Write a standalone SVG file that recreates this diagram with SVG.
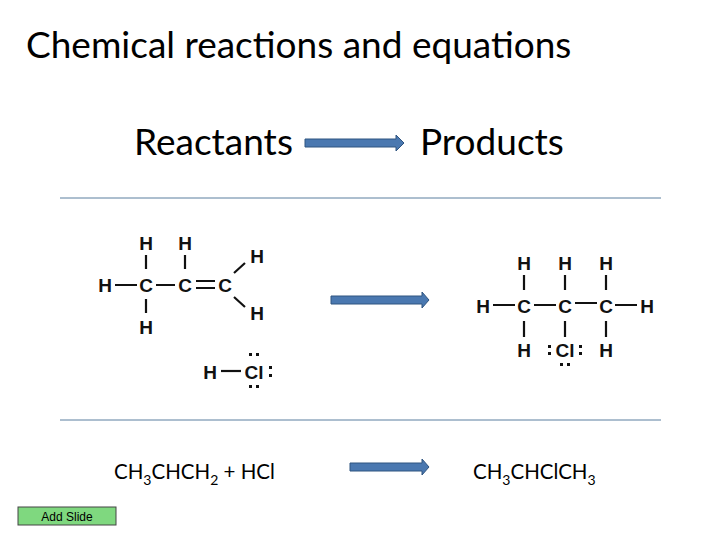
<svg xmlns="http://www.w3.org/2000/svg" width="720" height="540" viewBox="0 0 720 540">
<style>
.t{font-family:Lato,"Open Sans",sans-serif;fill:#000}
.a{font-family:"Liberation Sans",Arial,sans-serif;font-size:19px;font-weight:bold;text-anchor:middle;dominant-baseline:central;fill:#111}
.b{stroke:#111;stroke-width:2.2;fill:none}
.d{fill:#111}
.arr{fill:#4a78b0;stroke:#2f5480;stroke-width:1}
</style>
<rect width="720" height="540" fill="#fff"/>
<text class="t" x="26" y="58" font-size="37">Chemical reactions and equations</text>
<g id="reactants"><text class="t" x="134" y="155" font-size="37">Reactants</text></g>
<g id="products"><text class="t" x="420" y="155" font-size="37">Products</text></g>
<g id="connectors">
<path class="arr" d="M305 139h91v-4l8 8-8 8v-4h-91z"/>
<path class="arr" d="M331 296h91v-4l7 8-7 8v-4h-91z"/>
<path class="arr" d="M350 463h72v-4l7 8-7 8v-4h-72z"/>
</g>
<line x1="60" y1="198" x2="661" y2="198" stroke="#5a7f9f" stroke-width="1"/>
<line x1="60" y1="420" x2="661" y2="420" stroke="#5a7f9f" stroke-width="1"/>
<g id="propene">
<text class="a" x="146" y="243">H</text><text class="a" x="185" y="243">H</text>
<text class="a" x="105" y="285">H</text><text class="a" x="146" y="285">C</text><text class="a" x="185" y="285">C</text><text class="a" x="225" y="285">C</text>
<text class="a" x="146" y="327">H</text>
<text class="a" x="257" y="256">H</text><text class="a" x="257" y="313">H</text>
<path class="b" d="M146 255v14M185 255v14M146 299v14M115 285h22M156 285h19M196 281h19M196 288h19M234 273l11-10M234 297l11 10"/>
</g>
<g id="hcl">
<text class="a" x="210" y="372">H</text><text class="a" x="254" y="372">Cl</text>
<path class="b" d="M221 371h20"/>
<rect class="d" x="249" y="353" width="3" height="3"/><rect class="d" x="256" y="353" width="3" height="3"/>
<rect class="d" x="249" y="385" width="3" height="3"/><rect class="d" x="256" y="385" width="3" height="3"/>
<rect class="d" x="269" y="366" width="3" height="3"/><rect class="d" x="269" y="374" width="3" height="3"/>
</g>
<g id="chloropropane">
<text class="a" x="524" y="263">H</text><text class="a" x="565" y="263">H</text><text class="a" x="606" y="263">H</text>
<text class="a" x="483" y="306">H</text><text class="a" x="524" y="306">C</text><text class="a" x="565" y="306">C</text><text class="a" x="606" y="306">C</text><text class="a" x="647" y="306">H</text>
<text class="a" x="524" y="350">H</text><text class="a" x="565" y="350">Cl</text><text class="a" x="606" y="350">H</text>
<path class="b" d="M524 275v15M565 275v15M606 275v15M524 321v16M565 321v16M606 321v16M493 305h22M534 305h22M575 303h22M615 305h22"/>
<rect class="d" x="548" y="345" width="3" height="3"/><rect class="d" x="548" y="352" width="3" height="3"/>
<rect class="d" x="579" y="345" width="3" height="3"/><rect class="d" x="579" y="352" width="3" height="3"/>
<rect class="d" x="560" y="363" width="3" height="3"/><rect class="d" x="567" y="363" width="3" height="3"/>
</g>
<g id="eq-left"><text class="t" x="114" y="479" font-size="20.5" font-family="Liberation Sans,sans-serif">CH<tspan font-size="14" dy="6">3</tspan><tspan dy="-6">CHCH</tspan><tspan font-size="14" dy="6">2</tspan><tspan dy="-6"> + HCl</tspan></text></g>
<g id="eq-right"><text class="t" x="473" y="479" font-size="20.5" font-family="Liberation Sans,sans-serif">CH<tspan font-size="14" dy="6">3</tspan><tspan dy="-6">CHClCH</tspan><tspan font-size="14" dy="6">3</tspan></text></g>
<g id="add-slide"><rect x="18" y="507" width="98" height="18" fill="#7fd87f" stroke="#444" stroke-width="1"/>
<text x="67" y="521" font-family="Liberation Sans,sans-serif" font-size="12" text-anchor="middle">Add Slide</text></g>
</svg>
